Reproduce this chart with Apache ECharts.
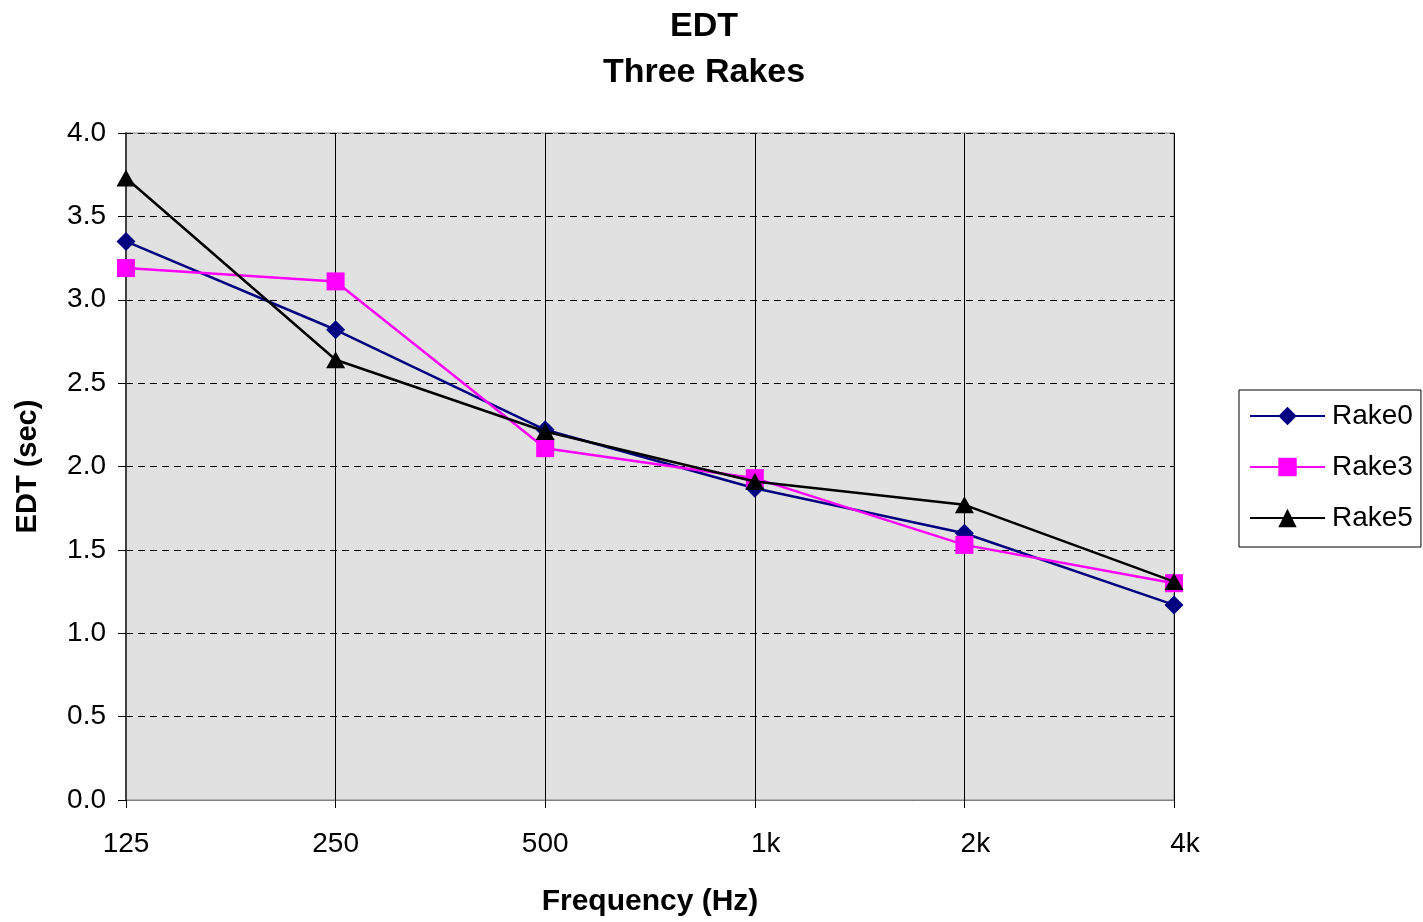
<!DOCTYPE html>
<html>
<head>
<meta charset="utf-8">
<title>EDT - Three Rakes</title>
<script src="https://cdn.jsdelivr.net/npm/echarts@6/dist/echarts.min.js"></script>
<style>
  html, body { margin: 0; padding: 0; background: #ffffff; }
  #chart { width: 1423px; height: 922px; }
</style>
</head>
<body>
<div id="chart"></div>
<script>
// Octave-band centre frequencies
const frequencies = ['125', '250', '500', '1k', '2k', '4k'];

// Early decay time (seconds) per rake position
const rake0 = [3.35, 2.82, 2.22, 1.87, 1.60, 1.17];
const rake3 = [3.19, 3.11, 2.11, 1.93, 1.53, 1.30];
const rake5 = [3.73, 2.64, 2.21, 1.91, 1.77, 1.31];

// Y axis range and step
const yMin = 0;
const yMax = 4;
const yStep = 0.5;

const FONT = '"Liberation Sans", Arial, sans-serif';

const chart = echarts.init(document.getElementById('chart'), null, { renderer: 'canvas' });

chart.setOption({
  backgroundColor: '#ffffff',
  animation: false,
  title: {
    text: 'EDT\nThree Rakes',
    left: 704,
    textAlign: 'center',
    top: 4,
    padding: 0,
    textStyle: {
      fontFamily: FONT,
      fontWeight: 'bold',
      fontSize: 34,
      lineHeight: 46,
      color: '#000000'
    }
  },
  legend: {
    orient: 'vertical',
    left: 1239,
    top: 390,
    padding: [12, 8, 15, 10],
    itemWidth: 75,
    itemHeight: 23,
    itemGap: 23,
    backgroundColor: '#ffffff',
    borderColor: '#000000',
    borderWidth: 1,
    textStyle: {
      fontFamily: FONT,
      fontSize: 28,
      color: '#000000',
      padding: [0, 0, 0, 2]
    },
    data: ['Rake0', 'Rake3', 'Rake5']
  },
  grid: {
    left: 126,
    right: 249,
    top: 133,
    bottom: 120,
    show: true,
    backgroundColor: '#e1e1e1',
    borderColor: '#808080',
    borderWidth: 1
  },
  xAxis: {
    type: 'category',
    data: frequencies,
    boundaryGap: false,
    name: 'Frequency (Hz)',
    nameLocation: 'middle',
    nameGap: 87,
    nameTextStyle: {
      fontFamily: FONT,
      fontWeight: 'bold',
      fontSize: 30,
      color: '#000000'
    },
    axisLine: { show: true, lineStyle: { color: '#808080', width: 1 } },
    axisTick: { show: true, interval: 0, length: 8, lineStyle: { color: '#000000' } },
    axisLabel: {
      interval: 0,
      margin: 30,
      fontFamily: FONT,
      fontSize: 28,
      color: '#000000',
      formatter: function (v) {
        return v.indexOf('k') >= 0 ? '{k|' + v + '}' : v;
      },
      rich: {
        k: { fontFamily: FONT, fontSize: 28, color: '#000000', padding: [0, 0, 0, 22] }
      }
    },
    splitLine: { show: true, interval: 0, lineStyle: { color: '#000000', width: 1, type: 'solid' } }
  },
  yAxis: {
    type: 'value',
    min: yMin,
    max: yMax,
    interval: yStep,
    name: 'EDT (sec)',
    nameLocation: 'middle',
    nameGap: 84,
    nameRotate: 90,
    nameTextStyle: {
      fontFamily: FONT,
      fontWeight: 'bold',
      fontSize: 29,
      color: '#000000'
    },
    axisLine: { show: true, lineStyle: { color: '#404040', width: 2 } },
    axisTick: { show: true, length: 8, lineStyle: { color: '#000000' } },
    axisLabel: {
      margin: 20,
      fontFamily: FONT,
      fontSize: 28,
      color: '#000000',
      formatter: function (v) { return v.toFixed(1); }
    },
    splitLine: { show: true, lineStyle: { color: '#000000', width: 1, type: [7, 5] } }
  },
  series: [
    {
      name: 'Rake0',
      type: 'line',
      data: rake0,
      symbol: 'diamond',
      symbolSize: [19, 19],
      color: '#000080',
      lineStyle: { color: '#000080', width: 2.5 },
      itemStyle: { color: '#000080' },
      z: 2
    },
    {
      name: 'Rake3',
      type: 'line',
      data: rake3,
      symbol: 'rect',
      symbolSize: [18, 18],
      color: '#ff00ff',
      lineStyle: { color: '#ff00ff', width: 2.5 },
      itemStyle: { color: '#ff00ff' },
      z: 3
    },
    {
      name: 'Rake5',
      type: 'line',
      data: rake5,
      symbol: 'triangle',
      symbolSize: [19, 17],
      color: '#000000',
      lineStyle: { color: '#000000', width: 2.5 },
      itemStyle: { color: '#000000' },
      z: 4
    }
  ]
});
</script>
</body>
</html>
